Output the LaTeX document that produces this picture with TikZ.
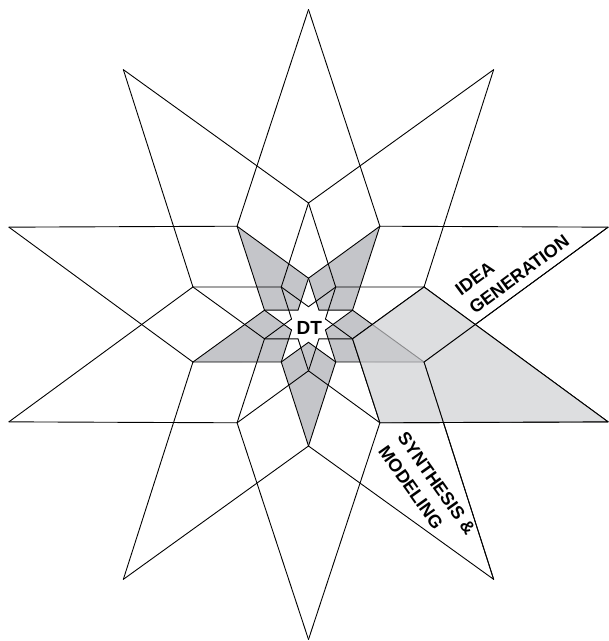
\documentclass[tikz,border=0pt]{standalone}
\usepackage{fontspec}
\setmainfont{Liberation Sans}
\definecolor{darkfill}{RGB}{196,197,201}
\definecolor{lightfill}{RGB}{205,206,209}
\tikzset{
  edge/.style={line width=0.9pt, line join=round, line cap=round},
  darkpetal/.style={fill=darkfill, draw=none},
  lightpetal/.style={fill=lightfill, fill opacity=0.68, draw=none},
  labeltext/.style={font=\bfseries\fontsize{18}{23.5}\selectfont, align=left, inner sep=0pt},
  centertext/.style={font=\bfseries\fontsize{19}{22}\selectfont, inner sep=0pt},
}
\begin{document}
\begin{tikzpicture}[x=1pt,y=1pt]
\useasboundingbox (-308.5,-316.5) rectangle (300.5,324.5);
\foreach \i in {0,...,9}{
  \pgfmathsetmacro{\a}{90+36*\i}
  \coordinate (T\i) at (\a:315pt);
  \coordinate (P\i) at (\a:121.5pt);
  \coordinate (I\i) at (\a:46.3pt);
  \coordinate (J\i) at (\a:17.8pt);
}
% dark inner petals
\foreach \i in {1,3,5,7,9}{
  \pgfmathtruncatemacro{\n}{mod(\i+1,10)}
  \pgfmathtruncatemacro{\p}{mod(\i+9,10)}
  \fill[darkpetal] (P\i) -- (I\n) -- (J\i) -- (I\p) -- cycle;
}
% all line segments
\foreach \i in {0,...,9}{
  \pgfmathtruncatemacro{\n}{mod(\i+1,10)}
  \pgfmathtruncatemacro{\p}{mod(\i+9,10)}
  \draw[edge] (T\i) -- (P\n);
  \draw[edge] (T\i) -- (P\p);
  \draw[edge] (P\i) -- (I\n);
  \draw[edge] (P\i) -- (I\p);
  \draw[edge] (I\i) -- (J\n);
  \draw[edge] (I\i) -- (J\p);
}
% highlighted outer petal
\fill[lightpetal] (T7) -- (P8) -- (I7) -- (P6) -- cycle;
\draw[edge] (T7) -- (P8) -- (I7) -- (P6) -- cycle;
\draw[edge] (T8) -- (P7);
\draw[edge] (T6) -- (P7);
% texts
\node[centertext] (dt) at (0.7,-3.0) {DT};
\node[labeltext, rotate=36.6] (idea) at (203.7,59.3) {IDEA\\GENERATION};
\node[labeltext, rotate=-54.6] (synth) at (118.6,-165.6) {SYNTHESIS \&\\MODELING};
\end{tikzpicture}
\end{document}
